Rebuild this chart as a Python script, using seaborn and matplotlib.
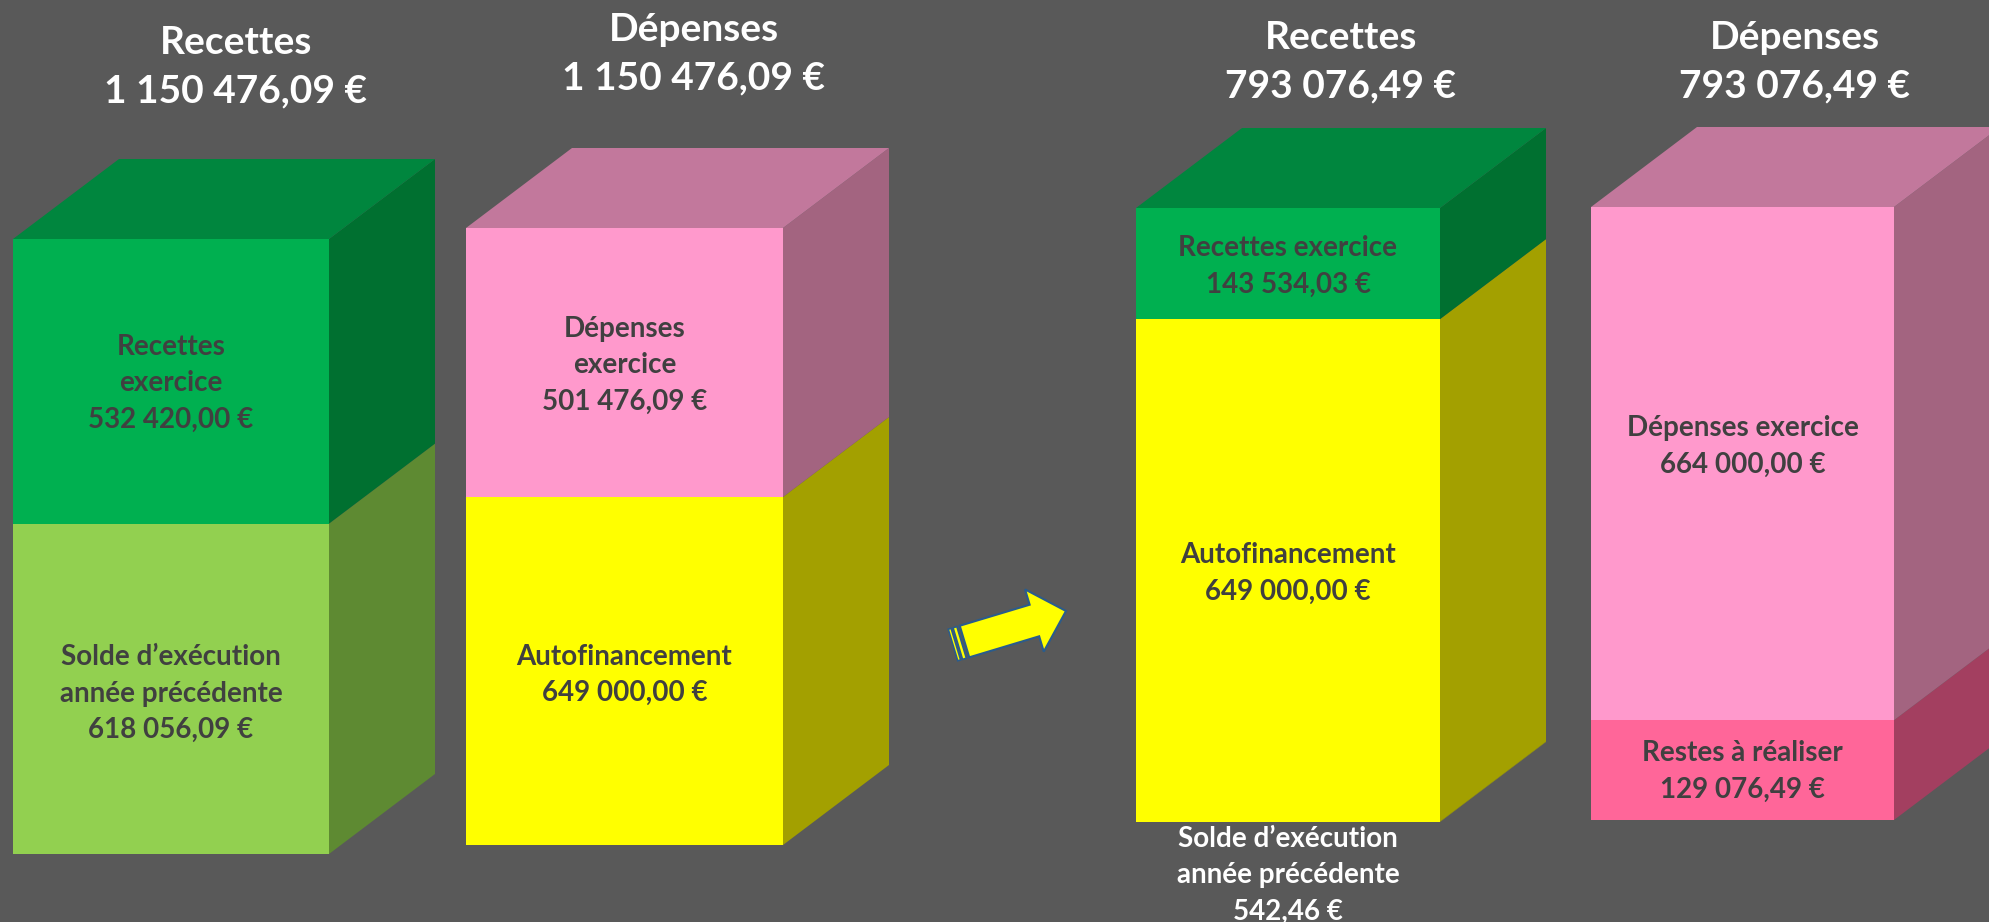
import numpy as np
import pandas as pd
import matplotlib.pyplot as plt
import matplotlib.patches as mpatches
import seaborn as sns

W, H = 1989, 922
BG = '#595959'
DARK = '#404040'

# ---- data (segments listed bottom -> top) ----
bar_titles = ['Recettes', 'Dépenses', 'Recettes', 'Dépenses']
bar_totals = ['1 150 476,09 €', '1 150 476,09 €', '793 076,49 €', '793 076,49 €']
seg_names = [
    ['Solde d’exécution\nannée précédente', 'Recettes\nexercice'],
    ['Autofinancement', 'Dépenses\nexercice'],
    ['Solde d’exécution\nannée précédente', 'Autofinancement', 'Recettes exercice'],
    ['Restes à réaliser', 'Dépenses exercice'],
]
seg_values = [
    [618056.09, 532420.00],
    [649000.00, 501476.09],
    [542.46, 649000.00, 143534.03],
    [129076.49, 664000.00],
]

# ---- style ----
GREEN = ('#00B050', '#007030', '#00863E')
LGREEN = ('#92D050', '#5E8A32', '#6FA03C')
PINK = ('#FF99CC', '#A36480', '#C2789C')
DPINK = ('#FF6699', '#A33F60', '#C25079')
YELLOW = ('#FFFF00', '#A3A000', '#C8C600')
seg_colors = [[LGREEN, GREEN], [YELLOW, PINK], [YELLOW, YELLOW, GREEN], [DPINK, PINK]]
# front face in pixels: x0, x1, y_bottom, y_top
boxes = [(13, 329, 854, 239), (466, 783, 845, 228), (1136, 1440, 822, 208), (1591, 1894, 820, 207)]
depth = (106, 80)
title_pos = [(236, 67), (694, 54), (1341, 62), (1795, 62)]
# label offset in px (negative = up); None -> placed under the bar in white
label_dy = [[5, 2], [4, 3], [None, 3, 3], [1, -17]]

sns.set_theme(style='white')
plt.rcParams['font.family'] = ['Lato', 'DejaVu Sans']


def euro(v):
    return f"{v:,.2f}".replace(',', ' ').replace('.', ',') + ' €'


fig = plt.figure(figsize=(W / 100, H / 100), dpi=100)
fig.patch.set_facecolor(BG)

for i, vals in enumerate(seg_values):
    x0, x1, yb, yt = boxes[i]
    wpx, hpx = x1 - x0, yb - yt
    ax = fig.add_axes([x0 / W, (H - yb) / H, wpx / W, hpx / H])
    ax.set_facecolor('none')
    total = sum(vals)
    cum = np.cumsum(vals)
    # stacked bars: draw cumulative heights from top segment downwards
    for k in reversed(range(len(vals))):
        df = pd.DataFrame({'bar': ['b'], 'val': [cum[k]]})
        sns.barplot(data=df, x='bar', y='val', color=seg_colors[i][k][0], saturation=1,
                    width=1, errorbar=None, linewidth=0, ax=ax)
    ax.set_xlim(-0.5, 0.5)
    ax.set_ylim(0, total)
    ax.axis('off')

    ddx = depth[0] / wpx
    ddy = depth[1] / hpx * total
    bottoms = np.concatenate([[0], cum[:-1]])
    for k in range(len(vals)):
        b, t = bottoms[k], cum[k]
        side = mpatches.Polygon([(0.5, b), (0.5 + ddx, b + ddy), (0.5 + ddx, t + ddy), (0.5, t)],
                                closed=True, facecolor=seg_colors[i][k][1], edgecolor='none',
                                clip_on=False, zorder=1)
        ax.add_patch(side)
    top = mpatches.Polygon([(-0.5, total), (-0.5 + ddx, total + ddy), (0.5 + ddx, total + ddy), (0.5, total)],
                           closed=True, facecolor=seg_colors[i][-1][2], edgecolor='none',
                           clip_on=False, zorder=1)
    ax.add_patch(top)

    for k in range(len(vals)):
        txt = seg_names[i][k] + '\n' + euro(vals[k])
        dy = label_dy[i][k]
        if dy is None:
            ax.annotate(txt, (0, 0), xytext=(0, -53 * 0.72), textcoords='offset points',
                        ha='center', va='center', color='white', fontsize=20,
                        fontweight='bold', linespacing=1.5, annotation_clip=False)
        else:
            ax.annotate(txt, (0, (bottoms[k] + cum[k]) / 2), xytext=(0, -dy * 0.72),
                        textcoords='offset points', ha='center', va='center', color=DARK,
                        fontsize=20, fontweight='bold', linespacing=1.5, annotation_clip=False)

# overlay in pixel coordinates for titles and the arrow
ov = fig.add_axes([0, 0, 1, 1])
ov.set_xlim(0, W)
ov.set_ylim(H, 0)
ov.set_facecolor('none')
ov.axis('off')

for (tx, ty), t1, t2 in zip(title_pos, bar_titles, bar_totals):
    ov.text(tx, ty, t1 + '\n' + t2, ha='center', va='center', color='white',
            fontsize=28, fontweight='bold', linespacing=1.45)

# striped arrow
tail = np.array([953.0, 645.0])
tip = np.array([1066.0, 611.0])
u = (tip - tail) / np.linalg.norm(tip - tail)
n = np.array([-u[1], u[0]])
start = tail + 12 * u
ov.add_patch(mpatches.FancyArrow(start[0], start[1], *(tip - start), width=33, head_width=65,
                                 head_length=33, length_includes_head=True,
                                 facecolor='#FFFF00', edgecolor='#2A5C8C', linewidth=1.5))
for a, b in [(0, 3), (5, 9)]:
    p = [tail + a * u + 16.5 * n, tail + b * u + 16.5 * n, tail + b * u - 16.5 * n, tail + a * u - 16.5 * n]
    ov.add_patch(mpatches.Polygon(p, closed=True, facecolor='#FFFF00', edgecolor='#2A5C8C', linewidth=1.2))

fig.savefig('out.png', dpi=100, facecolor=BG)
